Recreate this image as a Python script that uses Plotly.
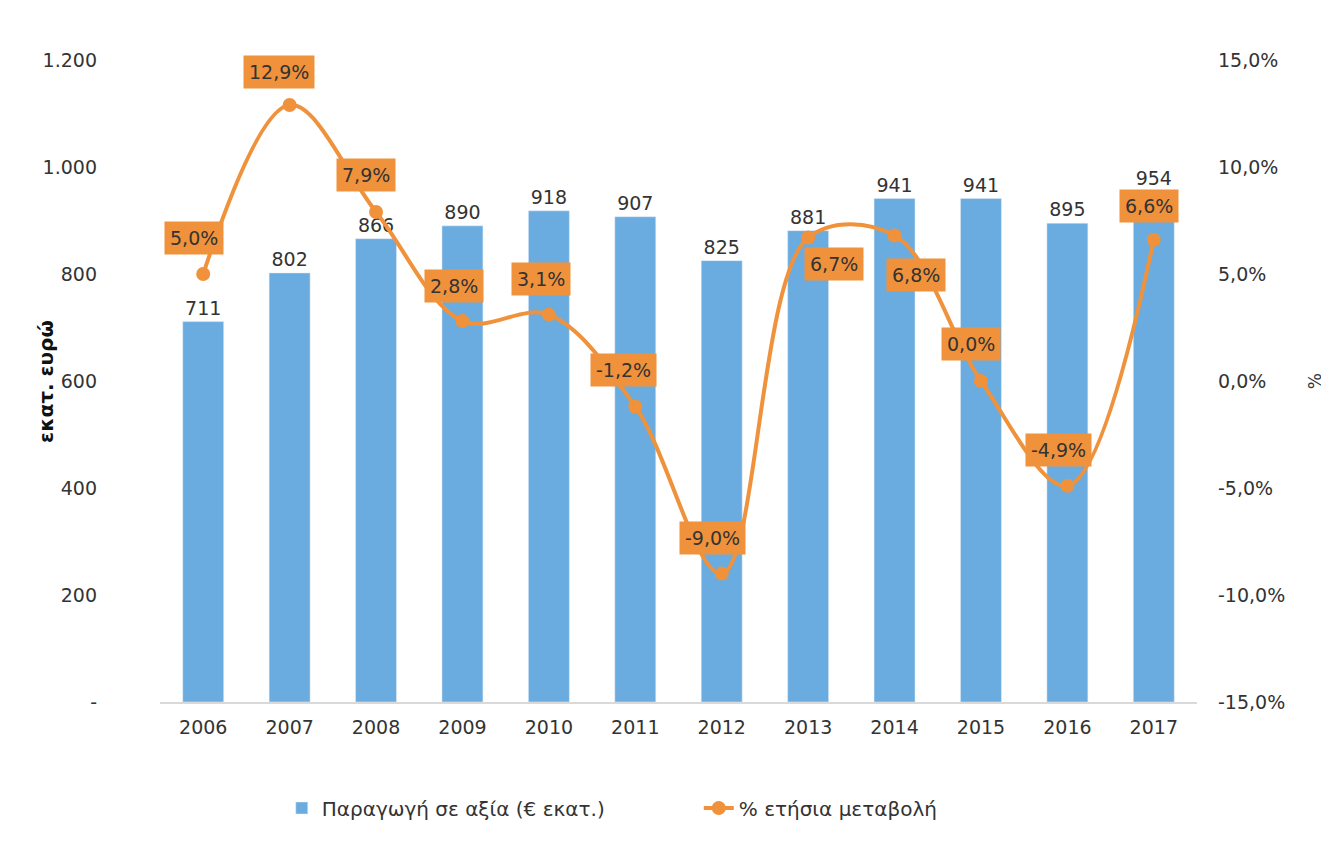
import plotly.graph_objects as go

years = ["2006", "2007", "2008", "2009", "2010", "2011", "2012", "2013", "2014", "2015", "2016", "2017"]
production = [711, 802, 866, 890, 918, 907, 825, 881, 941, 941, 895, 954]
pct_change = [5.0, 12.9, 7.9, 2.8, 3.1, -1.2, -9.0, 6.7, 6.8, 0.0, -4.9, 6.6]
left_ticks = [0, 200, 400, 600, 800, 1000, 1200]
left_ticktext = ["-", "200", "400", "600", "800", "1.000", "1.200"]
right_ticks = [-15, -10, -5, 0, 5, 10, 15]
right_ticktext = ["-15,0%", "-10,0%", "-5,0%", "0,0%", "5,0%", "10,0%", "15,0%"]

BAR = "#6AACDF"
ORANGE = "#F0923B"
TXT = "#333333"
FONT = "DejaVu Sans"
FS = 19

fig = go.Figure()
fig.add_trace(go.Bar(
    x=years, y=production, name="Παραγωγή σε αξία (€ εκατ.)",
    marker_color=BAR, text=[str(v) for v in production], textposition="outside",
    textfont=dict(size=FS, color=TXT, family=FONT), cliponaxis=False,
))
fig.add_trace(go.Scatter(
    x=years, y=pct_change, name="% ετήσια μεταβολή", yaxis="y2",
    mode="lines+markers", line=dict(color=ORANGE, width=4, shape="spline", smoothing=1),
    marker=dict(size=14, color=ORANGE),
))

# label placement offsets (px): (xshift, yshift)
offsets = [(-9, 36), (-11, 33), (-10, 37), (-8, 35), (-8, 36), (-12, 37), (-9, 36),
           (26, -26), (21, -40), (-10, 37), (-9, 36), (-5, 34)]
# on a category axis, annotation x is the category's serial index
for idx, (v, (dx, dy)) in enumerate(zip(pct_change, offsets)):
    fig.add_annotation(
        x=idx, y=v, xref="x", yref="y2", text=f"{v:.1f}%".replace(".", ","), showarrow=False,
        xshift=dx, yshift=dy, bgcolor=ORANGE, borderpad=5,
        font=dict(size=FS, color=TXT, family=FONT),
    )

# axis titles
fig.add_annotation(x=-0.110, y=0.5, xref="paper", yref="paper", text="<b>εκατ. ευρώ</b>",
                   xanchor="center", yanchor="middle",
                   textangle=-90, showarrow=False, font=dict(size=20, color="#111", family=FONT))
fig.add_annotation(x=1.114, y=0.5, xref="paper", yref="paper", text="%",
                   xanchor="center", yanchor="middle",
                   textangle=-90, showarrow=False, font=dict(size=17, color=TXT, family=FONT))

fig.update_layout(
    width=1329, height=848,
    margin=dict(l=152, r=140, t=52, b=154),
    plot_bgcolor="white", paper_bgcolor="white",
    font=dict(family=FONT, size=FS, color=TXT),
    bargap=0.526,
    showlegend=True,
    legend=dict(orientation="h", xref="container", x=0.206, xanchor="left",
                yref="container", y=0.0566, yanchor="middle",
                font=dict(size=20, color=TXT, family=FONT), entrywidth=372, entrywidthmode="pixels"),
    xaxis=dict(type="category", range=[-0.5, len(years) - 0.5], autorange=False,
               showline=True, linecolor="#D9D9D9", linewidth=1.5, ticks="",
               tickfont=dict(size=FS, color=TXT), showgrid=False, automargin=False,
               ticklabelstandoff=7),
    yaxis=dict(range=[0, 1200], tickvals=left_ticks, ticktext=left_ticktext,
               showgrid=False, zeroline=False, ticks="", ticklabelstandoff=62,
               tickfont=dict(size=FS, color=TXT), automargin=False),
    yaxis2=dict(range=[-15, 15], overlaying="y", side="right", tickvals=right_ticks,
                ticktext=right_ticktext, showgrid=False, zeroline=False, ticks="",
                ticklabelstandoff=20, tickfont=dict(size=FS, color=TXT), automargin=False),
)

fig.write_html("out.html")
